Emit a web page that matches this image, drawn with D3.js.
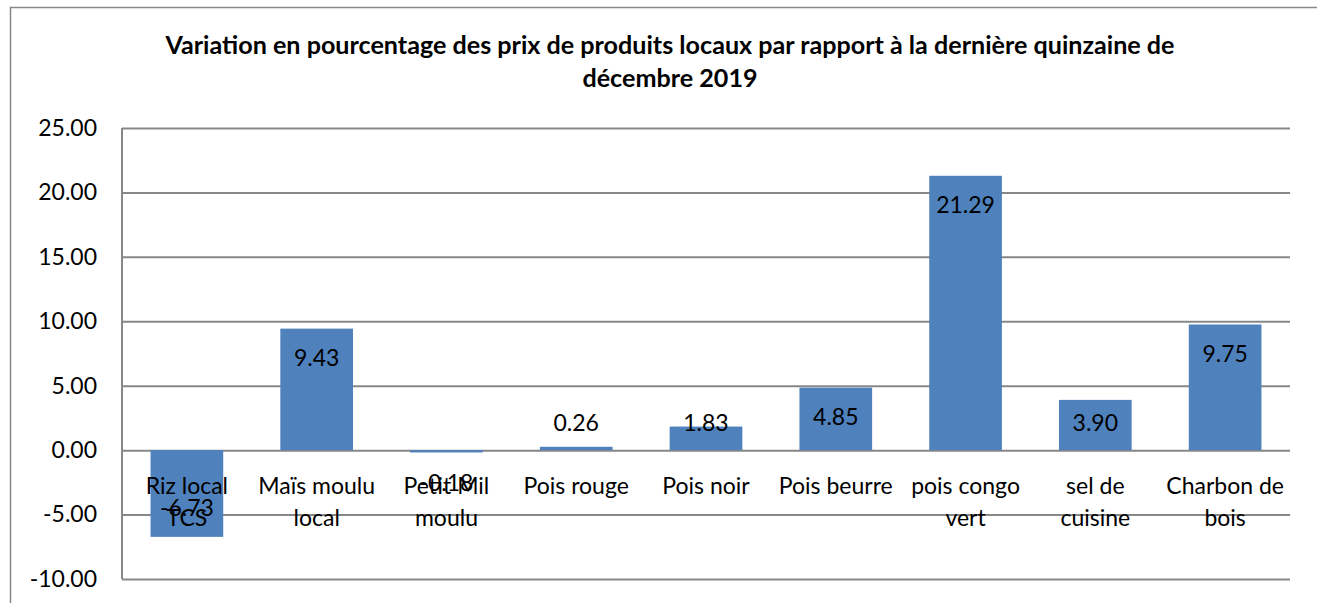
<!DOCTYPE html>
<html><head><meta charset="utf-8">
<script src="https://cdn.jsdelivr.net/npm/d3@7"></script>
<style>body{margin:0;background:#fff}svg{display:block}text{font-family:Lato,"Noto Sans",sans-serif}</style>
</head><body><svg id="c" width="1317" height="603"></svg>
<script>
const titleLines = ["Variation en pourcentage des prix de produits locaux par rapport à la dernière quinzaine de", "décembre 2019"];
const categories = ["Riz local\nTCS", "Maïs moulu\nlocal", "Petit Mil\nmoulu", "Pois rouge", "Pois noir", "Pois beurre", "pois congo\nvert", "sel de\ncuisine", "Charbon de\nbois"];
const values = [-6.73, 9.43, -0.18, 0.26, 1.83, 4.85, 21.29, 3.90, 9.75];
const yTicks = [-10, -5, 0, 5, 10, 15, 20, 25];

(function(){
const svg = d3.select("#c");
const W = 1317, H = 603;
const pL = 122, pR = 1290, pT = 128, pB = 579;
const grid = "#878787";
const fmt = d => d3.format(".2f")(d).replace("\u2212","-");

// outer frame
svg.append("path").attr("d", `M10.5,${H} V7.5 H${W}`).attr("fill","none").attr("stroke",grid).attr("stroke-width",1.5);

// title
const tg = svg.append("g");
titleLines.forEach((t,i)=>{
  tg.append("text").attr("x",670).attr("y",54+i*33).attr("text-anchor","middle")
    .attr("font-weight","bold").attr("font-size",20).attr("fill","#000").text(t);
});
const t0 = tg.select("text").node();
const len = t0.getComputedTextLength();
const fs = 20*1010/len;
tg.selectAll("text").attr("font-size",fs);

const x = d3.scaleBand().domain(categories).range([pL,pR]).paddingInner(0.44).paddingOuter(0.22);
const y = d3.scaleLinear().domain([-10,25]).range([pB,pT]);

// gridlines
const yAxis = d3.axisLeft(y).tickValues(yTicks).tickFormat(fmt).tickSize(-(pR-pL)).tickPadding(25);
const ga = svg.append("g").attr("transform",`translate(${pL},0)`).call(yAxis);
ga.select(".domain").remove();
ga.selectAll(".tick line").attr("stroke",grid).attr("stroke-width",2);
ga.selectAll(".tick text").attr("font-size",23).attr("fill","#000").attr("font-family","Lato,'Noto Sans',sans-serif");
svg.append("line").attr("x1",pL).attr("x2",pL).attr("y1",pT).attr("y2",pB).attr("stroke",grid).attr("stroke-width",2);

// bars
svg.append("g").selectAll("rect").data(values).join("rect")
  .attr("x",(d,i)=>x(categories[i]))
  .attr("width",x.bandwidth())
  .attr("y",d=>y(Math.max(0,d)))
  .attr("height",d=>Math.abs(y(d)-y(0)))
  .attr("fill","#4F81BD");

// category labels
const cg = svg.append("g");
categories.forEach((c,i)=>{
  const t = cg.append("text").attr("text-anchor","middle").attr("font-size",23).attr("fill","#000");
  c.split("\n").forEach((ln,j)=>{
    t.append("tspan").attr("x",x(c)+x.bandwidth()/2).attr("y",y(0)+44+j*32).text(ln);
  });
});

// data labels
const y0 = y(0);
svg.append("g").selectAll("text").data(values).join("text")
  .attr("text-anchor","middle").attr("font-size",23).attr("fill","#000")
  .attr("x",(d,i)=>x(categories[i])+x.bandwidth()/2)
  .attr("y",d=>{
    let cy = d>=0 ? Math.min(y(d)+29, y0-27) : Math.max(y(d)-29, y0+33);
    return cy+8;
  })
  .text(fmt);
})();
</script></body></html>
